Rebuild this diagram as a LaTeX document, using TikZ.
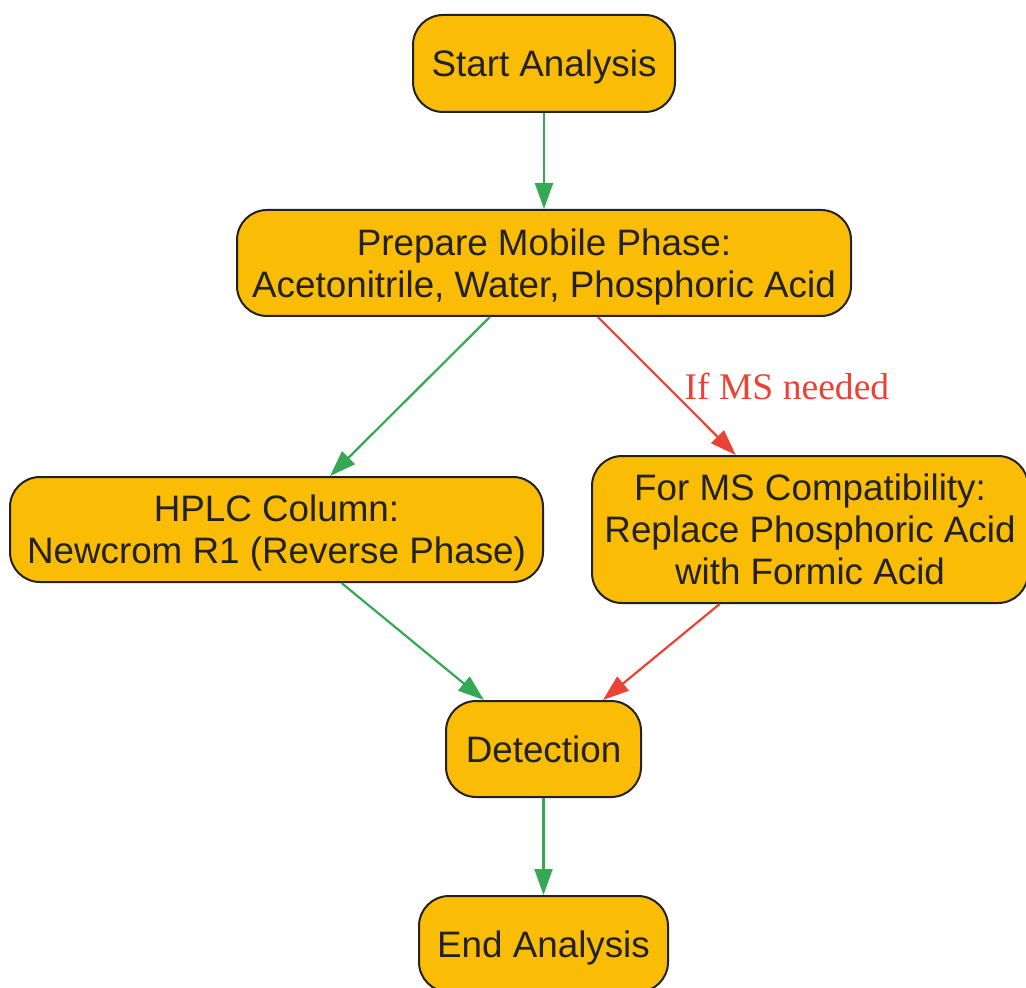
\documentclass[tikz,border=0pt]{standalone}
\usepackage{fontspec}
\setmainfont{Liberation Sans}
\newfontfamily\condfont{Liberation Serif}
\usepackage{xcolor}
\usetikzlibrary{arrows.meta}

\definecolor{stepfill}{HTML}{FBBC05}
\definecolor{okgreen}{HTML}{34A853}
\definecolor{msred}{HTML}{EA4335}
\definecolor{inkdark}{HTML}{222222}

\begin{document}
\begin{tikzpicture}[x=0.5pt,y=-0.5pt,
	box/.style={draw=inkdark, line width=1pt, fill=stepfill, rounded corners=15pt,
		align=center, text=inkdark, inner sep=0pt, text depth=-3pt,
		font=\fontsize{18.4pt}{21pt}\selectfont},
	go/.style={-{Triangle[length=13pt,width=9pt]}, color=okgreen, line width=1.1pt},
	alt/.style={go, color=msred}]
	\useasboundingbox (0,0) rectangle (1026,988);

	\node[box, minimum width=131pt, minimum height=48.5pt] (start) at (544,63.5) {Start Analysis};
	\node[box, minimum width=307pt, minimum height=53pt] (prep) at (544,263)
		{Prepare Mobile Phase:\\Acetonitrile, Water, Phosphoric Acid};
	\node[box, minimum width=266.5pt, minimum height=52.5pt] (hplc) at (276.5,529.5)
		{HPLC Column:\\Newcrom R1 (Reverse Phase)};
	\node[box, minimum width=218pt, minimum height=73.5pt] (ms) at (810,529.5)
		{For MS Compatibility:\\Replace Phosphoric Acid\\with Formic Acid};
	\node[box, minimum width=97.5pt, minimum height=48pt] (det) at (543.5,749) {Detection};
	\node[box, minimum width=124.5pt, minimum height=48pt] (end) at (543.5,944) {End Analysis};

	\draw[go] (start) -- (prep);
	\draw[go] (prep) -- (hplc);
	\draw[alt] (prep) -- (ms) node[midway, right, xshift=5pt, text=msred,
		font=\condfont\fontsize{18.8pt}{21pt}\selectfont] (cond) {If MS needed};
	\draw[go] (hplc) -- (det);
	\draw[alt] (ms) -- (det);
	\draw[go] (det) -- (end);
\end{tikzpicture}
\end{document}
